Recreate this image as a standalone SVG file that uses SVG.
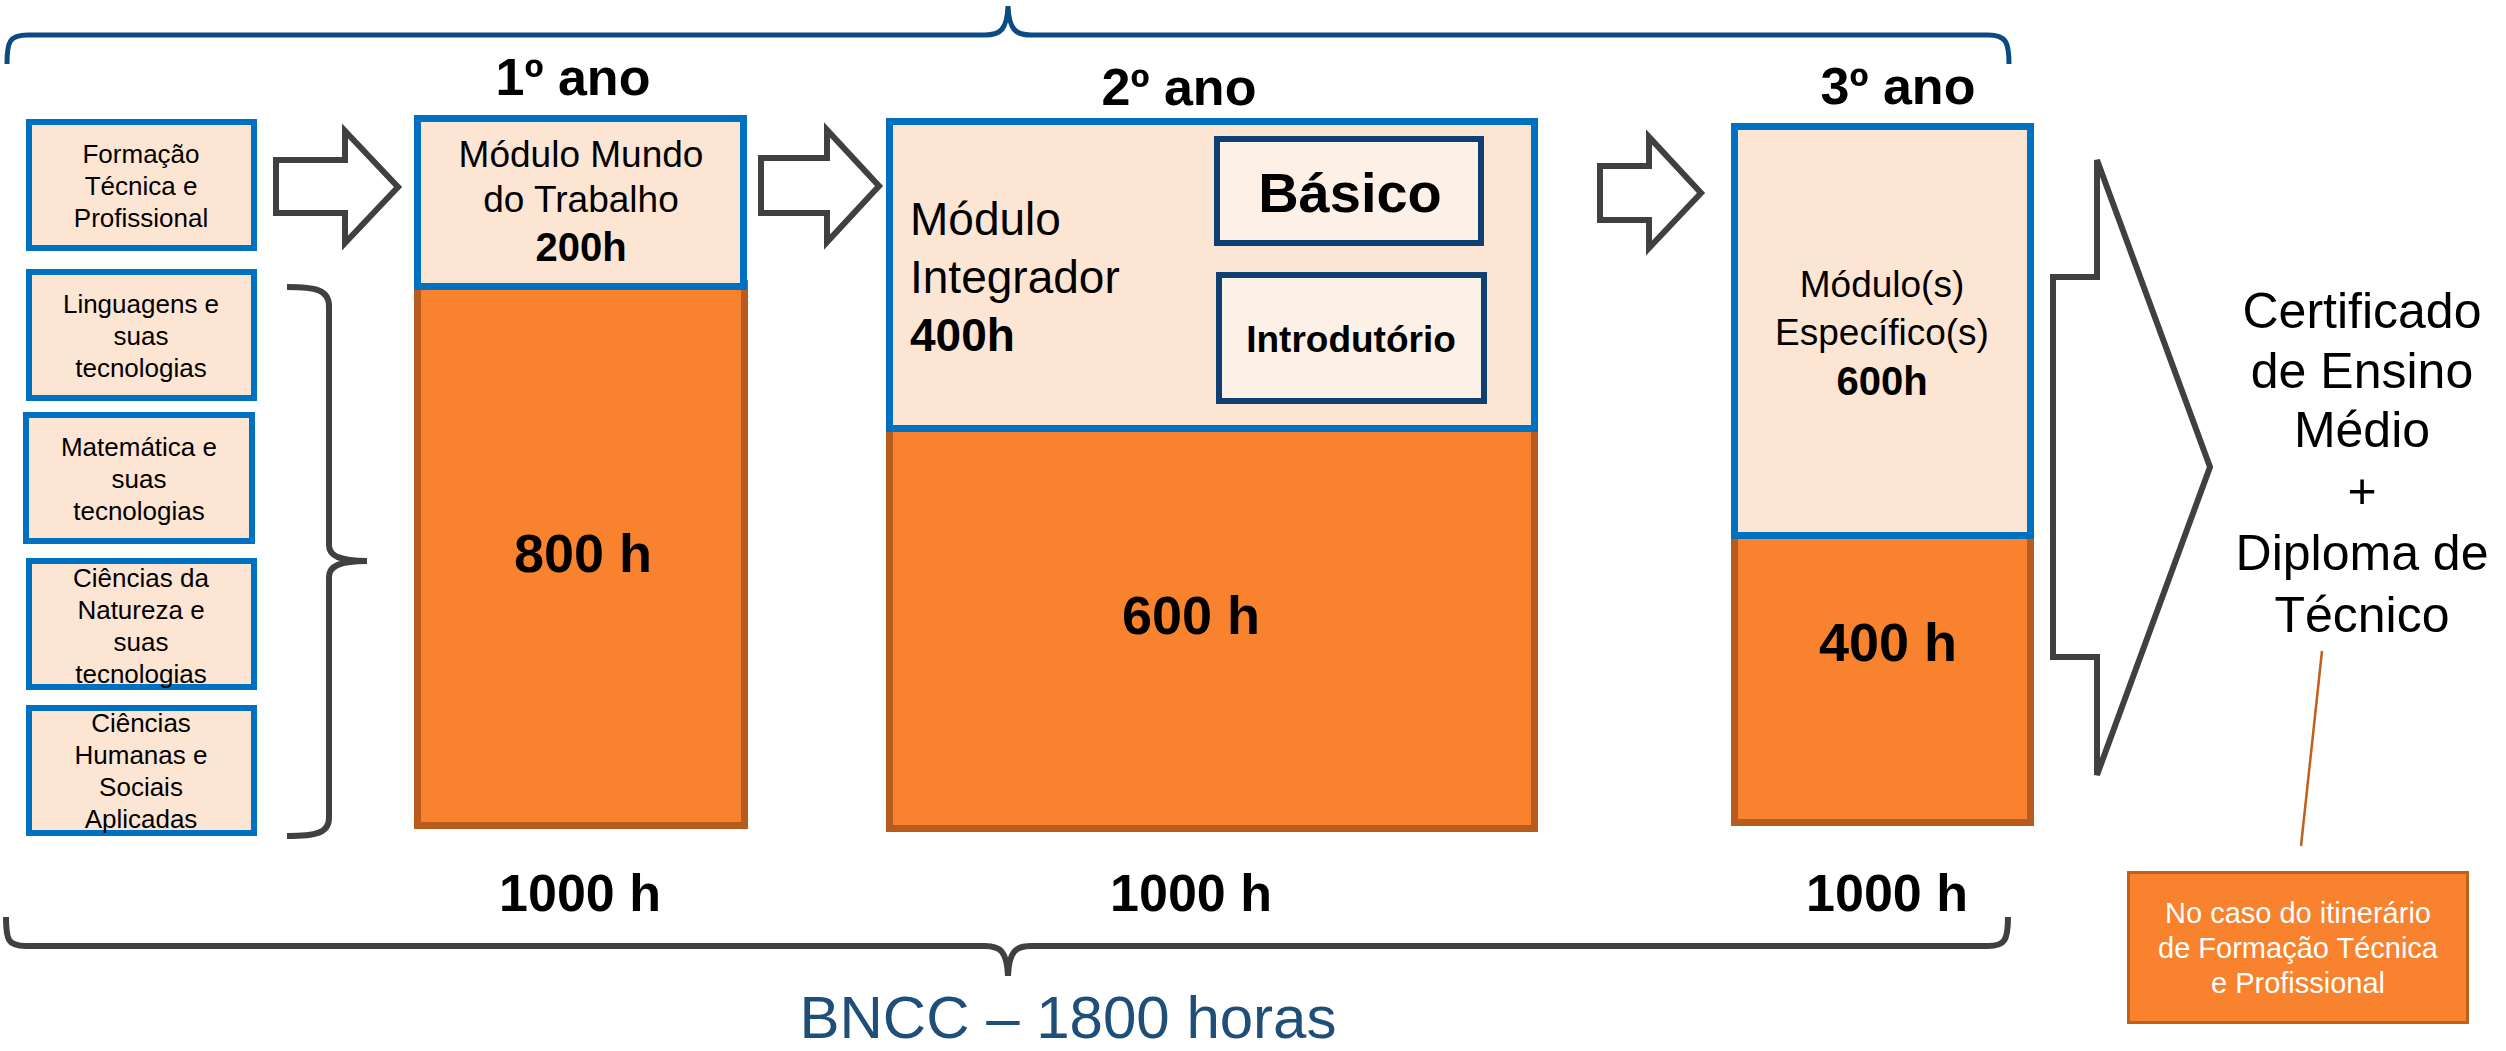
<svg xmlns="http://www.w3.org/2000/svg" width="2506" height="1051" viewBox="0 0 2506 1051">
<style>
text{font-family:"Liberation Sans",Arial,sans-serif;fill:#000}
.b{font-weight:bold}
.c{text-anchor:middle}
.peach{fill:#FDE5D3;stroke:#0070C0;stroke-width:7}
.small{fill:#FDE5D3;stroke:#0070C0;stroke-width:6}
.orange{fill:#F8822E;stroke:#B85C1E;stroke-width:7}
.inner{fill:#FDF0E6;stroke:#0E3F73;stroke-width:6}
.arrow{fill:#fff;stroke:#404040;stroke-width:6;stroke-linejoin:miter}
.s26{font-size:26px}
.s37{font-size:37px}
.s46{font-size:46px}
.s54{font-size:54px}
</style>
<rect width="2506" height="1051" fill="#fff"/>

<g id="connectors">
<path d="M7,64 C7,42 9,35 28,35 H985 C1000,35 1007,30 1008,6 C1009,30 1016,35 1031,35 H1988 C2006,35 2009,42 2009,64" fill="none" stroke="#0C4A84" stroke-width="5"/>
<path d="M6,917 C6,940 8,946 26,946 H985 C1000,946 1007,951 1008,976 C1009,951 1016,946 1031,946 H1988 C2005,946 2008,940 2008,917" fill="none" stroke="#404040" stroke-width="6"/>
<path d="M287,287 C316,287 329,290 329,306 V545 C329,556 340,561 367,561 C340,561 329,566 329,577 V818 C329,833 316,836 287,836" fill="none" stroke="#404040" stroke-width="6"/>
<path class="arrow" d="M276,160 H345 V131 L398,187 L345,243 V213 H276 Z"/>
<path class="arrow" d="M761,158 H827 V130 L879,186 L827,242 V213 H761 Z"/>
<path class="arrow" d="M1600,166 H1649 V137 L1701,193 L1649,248 V220 H1600 Z"/>
<path class="arrow" d="M2053,277 H2097 V160 L2210,467 L2097,775 V657 H2053 Z"/>
<line x1="2322" y1="651" x2="2301" y2="846" stroke="#C0601A" stroke-width="2.5"/>
</g>

<g id="year-labels">
<text class="b c" x="573" y="95" font-size="52">1º ano</text>
<text class="b c" x="1179" y="105" font-size="52">2º ano</text>
<text class="b c" x="1898" y="104" font-size="52">3º ano</text>
</g>

<g id="formacao-tecnica">
<rect class="small" x="29" y="122" width="225" height="126"/>
<text class="c s26" x="141" y="163">Formação</text>
<text class="c s26" x="141" y="195">Técnica e</text>
<text class="c s26" x="141" y="227">Profissional</text>
</g>
<g id="linguagens">
<rect class="small" x="29" y="272" width="225" height="126"/>
<text class="c s26" x="141" y="313">Linguagens e</text>
<text class="c s26" x="141" y="345">suas</text>
<text class="c s26" x="141" y="377">tecnologias</text>
</g>
<g id="matematica">
<rect class="small" x="26" y="415" width="226" height="126"/>
<text class="c s26" x="139" y="456">Matemática e</text>
<text class="c s26" x="139" y="488">suas</text>
<text class="c s26" x="139" y="520">tecnologias</text>
</g>
<g id="natureza">
<rect class="small" x="29" y="561" width="225" height="126"/>
<text class="c s26" x="141" y="587">Ciências da</text>
<text class="c s26" x="141" y="619">Natureza e</text>
<text class="c s26" x="141" y="651">suas</text>
<text class="c s26" x="141" y="683">tecnologias</text>
</g>
<g id="humanas">
<rect class="small" x="29" y="708" width="225" height="125"/>
<text class="c s26" x="141" y="732">Ciências</text>
<text class="c s26" x="141" y="764">Humanas e</text>
<text class="c s26" x="141" y="796">Sociais</text>
<text class="c s26" x="141" y="828">Aplicadas</text>
</g>

<g id="ano1-bncc">
<rect class="orange" x="417.5" y="283.5" width="327" height="542"/>
<text class="b c s54" x="583" y="572">800 h</text>
</g>
<g id="ano1-modulo">
<rect class="peach" x="417.5" y="118.5" width="326" height="168"/>
<text class="c s37" x="581" y="167">Módulo Mundo</text>
<text class="c s37" x="581" y="212">do Trabalho</text>
<text class="b c" x="581" y="261" font-size="40">200h</text>
</g>

<g id="ano2-bncc">
<rect class="orange" x="889.5" y="425.5" width="645" height="403"/>
<text class="b c s54" x="1191" y="634">600 h</text>
</g>
<g id="ano2-modulo">
<rect class="peach" x="889.5" y="121.5" width="645" height="307"/>
<text class="s46" x="910" y="235">Módulo</text>
<text class="s46" x="910" y="293">Integrador</text>
<text class="b s46" x="910" y="351">400h</text>
</g>
<g id="basico">
<rect class="inner" x="1217" y="139" width="264" height="104"/>
<text class="b c" x="1350" y="212" font-size="56">Básico</text>
</g>
<g id="introdutorio">
<rect class="inner" x="1219" y="275" width="265" height="126"/>
<text class="b c s37" x="1351" y="352">Introdutório</text>
</g>

<g id="ano3-bncc">
<rect class="orange" x="1734.5" y="535.5" width="296" height="287"/>
<text class="b c s54" x="1888" y="661">400 h</text>
</g>
<g id="ano3-modulo">
<rect class="peach" x="1734.5" y="126.5" width="296" height="409"/>
<text class="c s37" x="1882" y="297">Módulo(s)</text>
<text class="c s37" x="1882" y="345">Específico(s)</text>
<text class="b c" x="1882" y="395" font-size="40">600h</text>
</g>

<g id="totais">
<text class="b c" x="580" y="911" font-size="52">1000 h</text>
<text class="b c" x="1191" y="911" font-size="52">1000 h</text>
<text class="b c" x="1887" y="911" font-size="52">1000 h</text>
</g>

<g id="resultado">
<text class="c" x="2362" y="328" font-size="50">Certificado</text>
<text class="c" x="2362" y="388" font-size="50">de Ensino</text>
<text class="c" x="2362" y="447" font-size="50">Médio</text>
<text class="c" x="2362" y="508" font-size="50">+</text>
<text class="c" x="2362" y="570" font-size="50">Diploma de</text>
<text class="c" x="2362" y="632" font-size="50">Técnico</text>
</g>

<g id="nota">
<rect x="2128.5" y="872.5" width="339" height="150" fill="#F8822E" stroke="#C0601A" stroke-width="3"/>
<text class="c" x="2298" y="923" font-size="29" style="fill:#fff">No caso do itinerário</text>
<text class="c" x="2298" y="958" font-size="29" style="fill:#fff">de Formação Técnica</text>
<text class="c" x="2298" y="993" font-size="29" style="fill:#fff">e Profissional</text>
</g>

<g id="bncc-label">
<text class="c" x="1068" y="1038" font-size="60" style="fill:#1F4E79">BNCC – 1800 horas</text>
</g>
</svg>
